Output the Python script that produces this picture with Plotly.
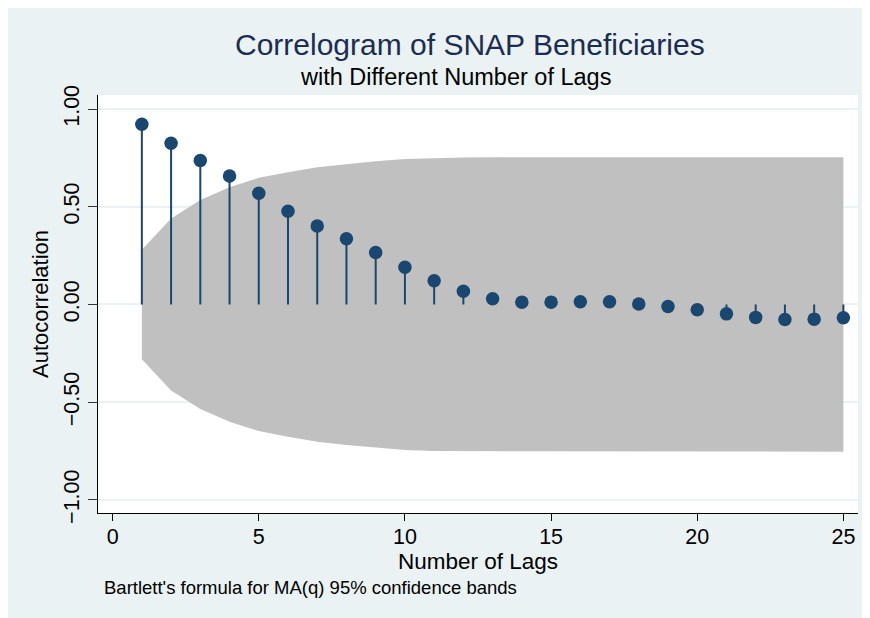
import plotly.graph_objects as go

lags = list(range(1, 26))
acf = [0.922, 0.825, 0.737, 0.658, 0.569, 0.477, 0.402, 0.336, 0.266, 0.191,
       0.121, 0.068, 0.029, 0.012, 0.012, 0.014, 0.014, 0.003, -0.010, -0.027,
       -0.048, -0.066, -0.077, -0.075, -0.068]
band_upper = [0.280, 0.440, 0.535, 0.600, 0.648, 0.677, 0.702, 0.719, 0.733, 0.745,
              0.750, 0.752, 0.753, 0.753, 0.753, 0.753, 0.753, 0.753, 0.753, 0.753,
              0.753, 0.753, 0.753, 0.753, 0.753]
band_lower = [-v for v in band_upper]
x_ticks = [0, 5, 10, 15, 20, 25]
y_ticks = [-1.0, -0.5, 0.0, 0.5, 1.0]

navy = '#1A476F'
bg = '#EAF2F3'
font = 'Liberation Sans, Arial, sans-serif'

# stems from zero to each value
stem_x = []
stem_y = []
for lag, r in zip(lags, acf):
    stem_x += [lag, lag, None]
    stem_y += [0, r, None]

fig = go.Figure()
fig.add_trace(go.Scatter(
    x=lags + lags[::-1], y=band_upper + band_lower[::-1],
    fill='toself', fillcolor='#C0C0C0', line=dict(width=0),
    mode='lines', hoverinfo='skip', showlegend=False
))
fig.add_trace(go.Scatter(
    x=stem_x, y=stem_y, mode='lines',
    line=dict(color=navy, width=2), showlegend=False
))
fig.add_trace(go.Scatter(
    x=lags, y=acf, mode='markers',
    marker=dict(color=navy, size=13.5), showlegend=False
))


# page pixel -> paper coords (plot area spans x 98..858, y 95..513 on the page)
def px(x):
    return (x - 98) / 760


def py(y):
    return (513 - y) / 418


fig.update_layout(
    width=862, height=610,
    margin=dict(l=90, r=12, t=87, b=105),
    paper_bgcolor=bg,
    plot_bgcolor='white',
    font=dict(family=font, color='black'),
    annotations=[
        dict(text='Correlogram of SNAP Beneficiaries', xref='paper', yref='paper',
             x=px(470), y=py(45), showarrow=False,
             xanchor='center', yanchor='middle',
             font=dict(size=30, color='#1C2D54')),
        dict(text='with Different Number of Lags', xref='paper', yref='paper',
             x=px(455), y=py(77), showarrow=False,
             xanchor='center', yanchor='middle',
             font=dict(size=23.5, color='black')),
        dict(text='Number of Lags', xref='paper', yref='paper',
             x=px(478), y=py(561), showarrow=False,
             xanchor='center', yanchor='middle',
             font=dict(size=22.5, color='black')),
        dict(text="Bartlett's formula for MA(q) 95% confidence bands",
             xref='paper', yref='paper',
             x=px(102), y=py(587), showarrow=False,
             xanchor='left', yanchor='middle',
             font=dict(size=18.5, color='black')),
    ],
)

fig.update_xaxes(
    range=[-0.5, 25.5], tickvals=x_ticks,
    showgrid=False, zeroline=False,
    showline=True, linecolor='black', linewidth=1,
    ticks='outside', ticklen=7, tickcolor='black',
    ticklabelstandoff=-3,
    tickfont=dict(size=21.5)
)
fig.update_yaxes(
    range=[-1.067, 1.072], tickvals=y_ticks, tickformat='.2f',
    tickangle=-90,
    showgrid=True, gridcolor=bg, gridwidth=1.5, zeroline=False,
    showline=True, linecolor='black', linewidth=1,
    ticks='outside', ticklen=9, tickcolor='#333333',
    tickfont=dict(size=21.5),
    title=dict(text='Autocorrelation', font=dict(size=22), standoff=5)
)

fig.write_html('out.html')
